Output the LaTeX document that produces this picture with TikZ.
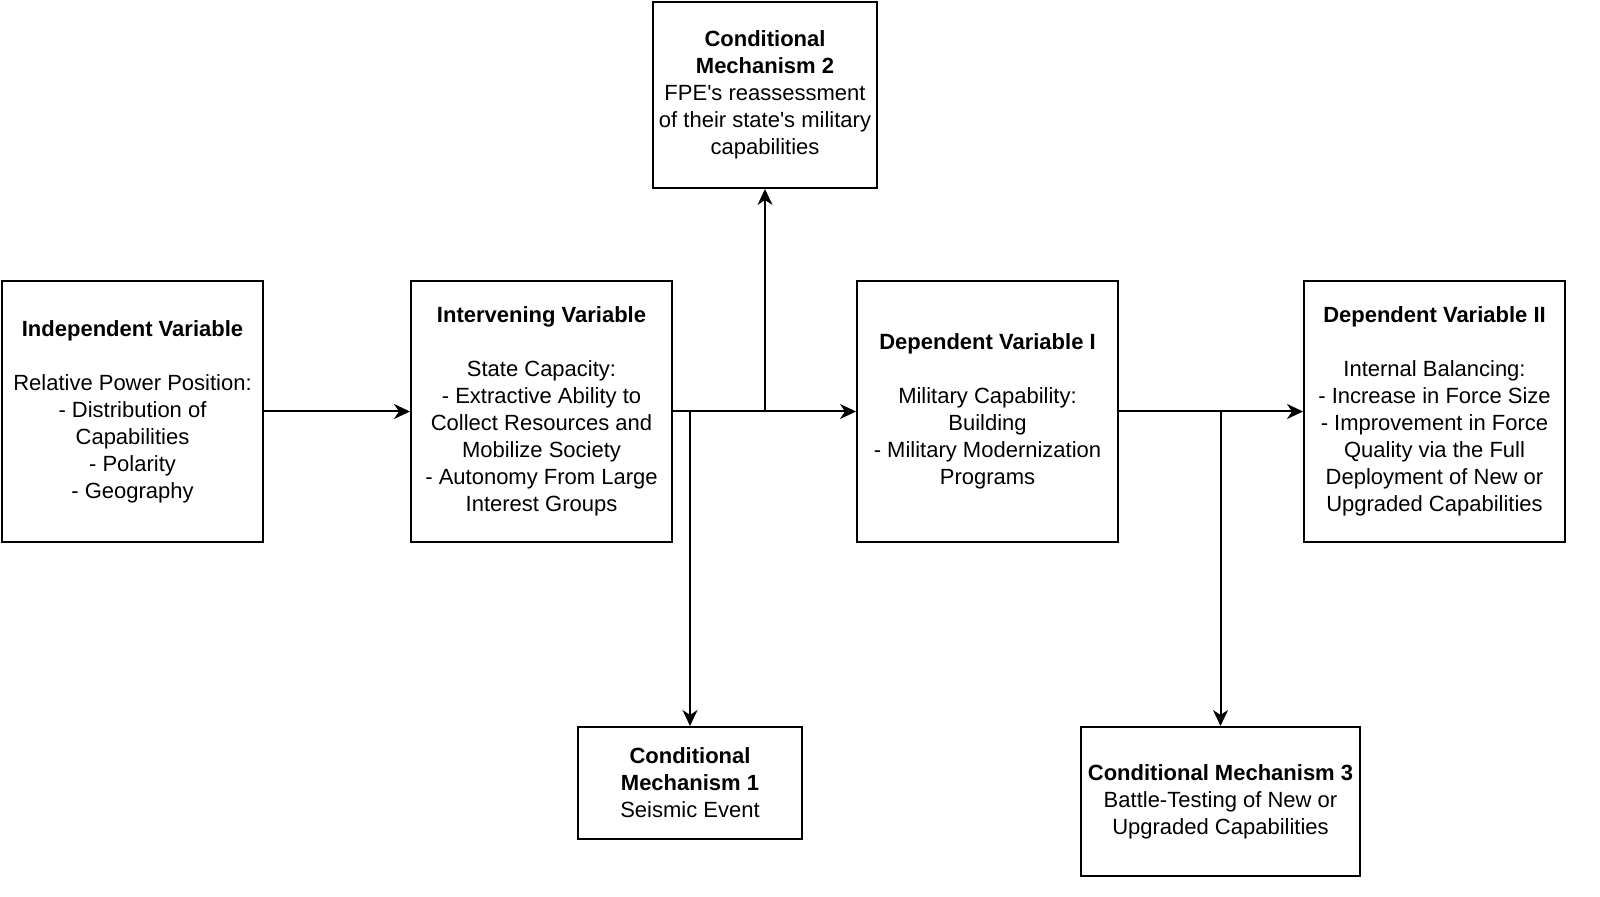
\documentclass[tikz,border=0pt]{standalone}
\usepackage{fontspec}
\setmainfont{Liberation Sans}
\usetikzlibrary{arrows.meta}

\tikzset{
    box/.style={draw, line width=1pt, align=center, inner sep=2pt,
        font=\fontsize{11}{13.5}\selectfont},
    link/.style={-{Stealth[length=8pt,width=7.5pt,inset=2.5pt]}, line width=1pt}
}

\begin{document}
\begin{tikzpicture}[x=0.5pt, y=-0.5pt]
    \useasboundingbox (0,0) rectangle (1600,897);

    % Main row of variables
    \node[box, minimum width=130.5pt, minimum height=130.5pt] (iv) at (132.5,411.5)
        {\textbf{Independent Variable}\\[13.5pt]Relative Power Position:\\- Distribution of\\Capabilities\\- Polarity\\- Geography};
    \node[box, minimum width=130.5pt, minimum height=130.5pt] (inter) at (541.5,411.5)
        {\textbf{Intervening Variable}\\[13.5pt]State Capacity:\\- Extractive Ability to\\Collect Resources and\\Mobilize Society\\- Autonomy From Large\\Interest Groups};
    \node[box, minimum width=130.5pt, minimum height=130.5pt] (dvone) at (987.5,411.5)
        {\textbf{Dependent Variable I}\\[13.5pt]Military Capability:\\Building\\- Military Modernization\\Programs};
    \node[box, minimum width=130.5pt, minimum height=130.5pt] (dvtwo) at (1434.5,411.5)
        {\textbf{Dependent Variable II}\\[13.5pt]Internal Balancing:\\- Increase in Force Size\\- Improvement in Force\\Quality via the Full\\Deployment of New or\\Upgraded Capabilities};

    % Conditional mechanisms
    \node[box, minimum width=112pt, minimum height=93pt] (cmtwo) at (765,95)
        {\textbf{Conditional}\\\textbf{Mechanism 2}\\FPE\textquotesingle s reassessment\\of their state\textquotesingle s military\\capabilities};
    \node[box, minimum width=112pt, minimum height=56pt] (cmone) at (690,783)
        {\textbf{Conditional}\\\textbf{Mechanism 1}\\Seismic Event};
    \node[box, minimum width=139.5pt, minimum height=74.5pt] (cmthree) at (1220.5,801.5)
        {\textbf{Conditional Mechanism 3}\\Battle-Testing of New or\\Upgraded Capabilities};

    % Draw arrows
    \draw[link] (iv.east) -- (inter.west);
    \draw[link] (inter.east) -- (dvone.west);
    \draw[link] (cmtwo.south |- inter.east) -- (cmtwo.south);
    \draw[link] (cmone.north |- inter.east) -- (cmone.north);
    \draw[link] (dvone.east) -- (dvtwo.west);
    \draw[link] (cmthree.north |- dvone.east) -- (cmthree.north);
\end{tikzpicture}
\end{document}
